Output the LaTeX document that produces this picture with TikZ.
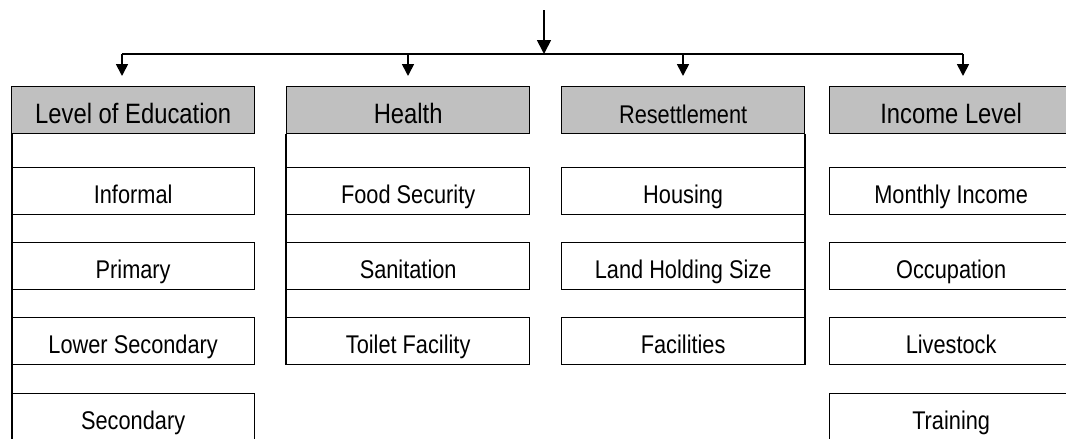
\documentclass[tikz,border=0pt]{standalone}
\usepackage{fontspec}
\setmainfont{Liberation Sans}[FakeStretch=0.85]
\usetikzlibrary{arrows.meta}
\definecolor{hdrgray}{RGB}{192,192,192}
\begin{document}
\begin{tikzpicture}[x=1pt,y=-1pt,
  box/.style={draw,line width=1.3pt,minimum width=243pt,minimum height=47pt,inner sep=0pt,
    anchor=north west,font=\fontsize{25.6}{28}\selectfont,text height=24pt,text depth=0pt},
  hdr/.style={box,fill=hdrgray,font=\fontsize{28}{30}\selectfont,text height=27pt},
  ln/.style={line width=1.7pt},
  arr/.style={ln,-{Triangle[width=12pt,length=12pt]}}]
\useasboundingbox (0,0) rectangle (1066,439);
\clip (0,0) rectangle (1066,439);
% headers
\node[hdr] (h1) at (11,86) {Level of Education};
\node[hdr] (h2) at (286,86) {Health};
\node[hdr,font=\fontsize{25.6}{28}\selectfont] (h3) at (561,86) {Resettlement};
\node[hdr] (h4) at (829,86) {Income Level};
% column 1
\node[box] (e1) at (11,167) {Informal};
\node[box] (e2) at (11,242) {Primary};
\node[box] (e3) at (11,317) {Lower Secondary};
\node[box] (e4) at (11,393) {Secondary};
% column 2
\node[box] (s1) at (286,167) {Food Security};
\node[box] (s2) at (286,242) {Sanitation};
\node[box] (s3) at (286,317) {Toilet Facility};
% column 3
\node[box] (r1) at (561,167) {Housing};
\node[box] (r2) at (561,242) {Land Holding Size};
\node[box] (r3) at (561,317) {Facilities};
% column 4
\node[box] (i1) at (829,167) {Monthly Income};
\node[box] (i2) at (829,242) {Occupation};
\node[box] (i3) at (829,317) {Livestock};
\node[box] (i4) at (829,393) {Training};
% top connector
\coordinate (src) at (544,10);
\coordinate (bus) at (544,54);
\coordinate (b1) at (122,54);
\coordinate (b2) at (408,54);
\coordinate (b3) at (683,54);
\coordinate (b4) at (963,54);
\draw[ln,-{Triangle[width=14pt,length=14pt]}] (src) -- (bus);
\draw[ln] (b1) -- (b4);
\draw[arr,shorten >=10pt] (b1) -- (b1 |- h1.north);
\draw[arr,shorten >=10pt] (b2) -- (b2 |- h2.north);
\draw[arr,shorten >=10pt] (b3) -- (b3 |- h3.north);
\draw[arr,shorten >=10pt] (b4) -- (b4 |- h4.north);
% side lines
\draw[ln] ([xshift=1pt]h1.south west) -- ([xshift=1pt]e4.south west);
\draw[ln] (h2.south west) -- (s3.south west);
\draw[ln] (h3.south east) -- (r3.south east);
\end{tikzpicture}
\end{document}
